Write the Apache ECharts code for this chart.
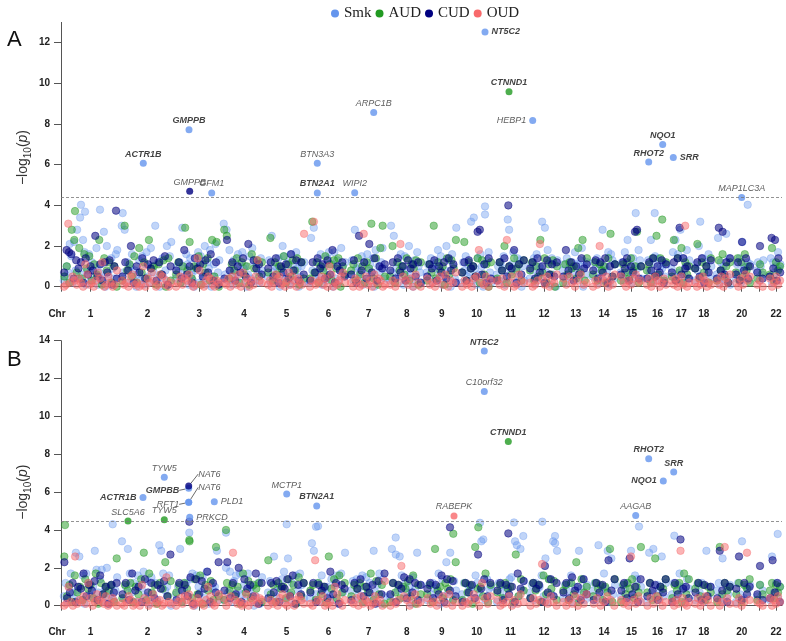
<!DOCTYPE html>
<html>
<head>
<meta charset="utf-8">
<script src="https://cdn.jsdelivr.net/npm/echarts@6.0.0/dist/echarts.min.js"></script>
<style>
html, body { margin: 0; padding: 0; background: #fff; }
#chart { width: 786px; height: 641px; }
</style>
</head>
<body>
<div id="chart"></div>
<script>
// chromosome tick positions and the span of the points of each chromosome (axis units)
var chrTick = ['1','2','3','4','5','6','7','8','9','10','11','12','13','14','15','16','17','18','','20','','22'];
var chrCenter = [29.5, 86.5, 138.2, 183, 225.5, 267.5, 307.5, 345.7, 380.7, 415.8, 449.5, 483, 514.7, 543, 570.5, 596.5, 620.3, 642.7, 663.5, 680.7, 698, 715];
var chrStart = [2, 60, 114, 162, 206, 248, 289, 328, 365, 400, 435, 468, 501, 531, 559, 585, 610, 633, 655, 674, 695, 708];
var chrEnd = [57, 111, 159, 202, 244, 285, 325, 361, 396, 431, 464, 497, 527, 555, 581, 606, 629, 651, 670, 690, 703, 720];

// background -log10(p) per chromosome, one char per gene: base36 digit / 10
var smkA = ['35a7lf2m8s4y6nh18g3c59j17b4r0k62e94gi', 'u7s2c9ag4806d3f1bh52ja7u3c06e48k1fm', '4a7c2t59gb1e6308ah2f74k1c9i05bl27d',
  'v6s3i81d57gb2h9a06f4jc3b72e8', '5d2p73a9e06kf48c1g3b6h905a2c', '2o8t47c5g19a3eh6b0h4d28ja5c', '6d3s9a47f1c2g8b5e0i3a7cj94',
  '3u7p29c5ga1f84k6b0d3ha72', '7b4e2a9ci6f158k3d0ga4t', '2c8f5b7w3y91e6ga0b4dh72', '6a3c9f14xs7bh28e5d0a3', '4b8e2g5a9w3t7ic1e6b0d',
  '8b2e5a7c3h9b4dj0a6c', '5c9e2b7s3a8h1gd4b', '7c3h5n8b2e6a9id4', '4d8n2bf6e3a9c5b', '9h5n3g7s2e6ai4d', '3b8kw5e2c7g4a',
  '6o2c8a3q5e1', '4b7e2m9a5c3b', '8c3a6d', '5e2c7a3h9b'];
var audA = ['5a2sn7j4g9f3b6n1e8c2a0', '3u8b5f2j7c4n9a1b6d0e3', '6c2at8m4a9f1b7e3n5m0', 'sp4b8e2c6a1g9d5c',
  '7o3c6a9f2b5d8e1c4', '4w7c2a8f5b3d9e0a6', '8b3e6a2c9v4e1ju5', '5k2c8a6e3b9d1c', '3b7u4c8a1e6d9n', '7m3c9a5e2d6b0c',
  '4c8k2a6e9b3d', '8c3a5n7e2b6d0a', '2b6c9a4j7n3e', '6c3b8a2eq5b', '3b7c4e8ar2a', '8b2e5p6ex3c', '5n3e8j2c6a',
  '9l4c7a2e', '3d8g5a2c', '7e3c5g8a2', '4b7', '6j3c8a'];
var cudA = ['7ihg4d9c2e6a8p5b3c7d1a4', '5c8k2a7e4b9d3c6f1a', '8c4i6a2e9b5d7g3c1', '4n8c3a7e5l2d9b6', '9c5e2a7b4g8d3c6',
  '3c7e9b4d6i2a8c5', '6d2p8c4l7e3a9b', '8c4e7a3d9b5c2', '5b9d3a7c4e8b2', '7c3d9a5rs6b2e4', '3c8e5a9i2b6d', '9c4e7a2d6b5c',
  '5i8c3a6e9b', '8d4c7e2a5b', '6c9e3a7rs4a', '4c8e5a7d2b', '7c3et6e9a4', '9c5e2a7d', '4t8r6c2e', '6c3m8e4a', '7k4', '5o9n3e7'];
var oudA = ['01v2531420b6120374c0152018', '3120561201a0427301651302', '0251436201e8103541032', '2140531607240315d32',
  '1302645120371530421q', '03w1235140a60213572', '204301q5130624301', '1302l53140620', '412035160327', '0312045i21503',
  '3140n2501632', '2013l4150326', '415203612', '031k4250316', '520314623', '1402530241', '3140251u02', '204153021',
  '3150426', '2041635', '130', '402513'];

var smkB = ['5c2ah74s8q3g1hc65atj7ej29k46b38f', 'y4auh7c2gb9i5d1f6c3wth8ag0', '6au28c5eh0ga7f4i1b9at3', '3k7i2dg8h6b4h9a05c1f',
  '7d2q5a9ei3p6c1g8hb4', '4xt6c2g98a5e3bg1h7s', '8d3e6ag2f9c4t7bh1e5', '5u2r8qg4c7a1f9s3b', '3b6c9ah1e5n7s2d8', '6c2b8a4gc7yz3e9a',
  '2c7b4a9ef1yw5u8d', '7b3c9ag5p2e6yxt', '4b8cg2a6t9e3b', '8c3w5ah9t2p6b', '5b9c2t6ge3a', '2s7u4b8q5c', '6c3bh8a2e9', '3b7c2t5a',
  '8c4p2a6b', '2c6y4a9b', '5b8', '3q7c4a'];
var audB = ['q5b2g7a3e9b4h1c6a8b2p', '4b8c2a6es3h7b1c9n5d', '7b2c9y4e6g1b8d3v5', '3c8b5a1h7d4b9c2', 'o6b2c9a4e7b1f5c',
  '8b3c6a2q9e4g7c', '5b9c2a7h3d6b1', '2c7b4a9d5g1b6', '6b2u8a4c9e3n', '3c7b1v9a5h2b', '7b4c9a2r5e8', '4c8b2g6e9d3',
  '8b3c6n2e7a', '5c9b3a7u2e', '2b6c9e4a7v', '7c3p5a9e', '4b8c2h6e', '9c5b3a7', '2v6c8a', '6c2b9e', '3b6', '8c4b7a'];
var cudB = ['n47c2a9h5b8d3g6a1b7c', '6c3h8a2e7c4b9d5r', '3c8b5f1e6d9i2c7n', '8n4c6k2e9b5h1c', '4c7d2a9e5g1b6c',
  '7c2b8a4i6c1b9', '3c9e5a7b1d6h', '6c2b9f4e7c3b', '9c4b6g2e8d5', '2c7b4r9e5c', '8c3b6a2h9d', '4c9b2l7e5c', '7c4f8a3e6',
  '3c7b2o8e', '8c4p6a2e', '5c8b3a7e', '2c6z9a4', '7c3b5a', '4t8c2a', '9q3c6a', '6l3', '4o7c2'];
var oudB = ['01a20q13251c4026321501420', '102530120b4203612301f21', '024153620142103a51026', '4025s3120160235143',
  '0312046105203531', '10o3250120a6203', '21405132015230d', '0213l5303612', '4120351602', '0213630c415', '3012503162',
  '0413m21520', '203150416', '1402530', '3120q3152', '0415302', '2031t4102', '1402530', '302v41', '1402s3', '210', '403152'];

// background points above 3.5: [position, -log10(p)]
var smkTallA = [[20, 4.03], [24, 3.69], [39, 3.79], [61.7, 3.62], [424, 3.95], [424, 3.55], [574.7, 3.62], [593.7, 3.62], [686.7, 4.03]];
var audTallA = [[14, 3.72]];
var cudTallA = [[55, 3.74], [447.3, 4.0]];
var smkTallB = [[51.7, 4.3], [128.3, 3.86], [165, 3.86], [225.7, 4.3], [255, 4.17], [257, 4.2], [334.7, 3.6], [419, 4.38],
  [453, 4.4], [462.3, 3.68], [481.3, 4.44], [494, 3.68], [578, 4.18], [613.3, 3.7], [716.7, 3.79]];
var audTallB = [[4, 4.26], [128.3, 3.47], [165, 4.0], [392.3, 3.8], [417.3, 4.14]];
var cudTallB = [[128.3, 4.44], [389, 4.14], [447.3, 3.82]];

// labelled genes
var geneA = ['NT5C2', 'CTNND1', 'HEBP1', 'ARPC1B', 'GMPPB', 'ACTR1B', 'BTN3A3', 'GMPPB', 'GFM1', 'BTN2A1', 'WIPI2', 'NQO1', 'RHOT2', 'SRR', 'MAP1LC3A'];
var posA = [424, 448, 471.7, 312.7, 128, 82.3, 256.3, 128.7, 150.7, 256.3, 293.7, 601.7, 587.7, 612.3, 680.7];
var valA = [12.53, 9.59, 8.17, 8.57, 7.72, 6.07, 6.07, 4.69, 4.61, 4.61, 4.62, 7.0, 6.13, 6.35, 4.39];
var traitA = ['Smk', 'AUD', 'Smk', 'Smk', 'Smk', 'Smk', 'Smk', 'CUD', 'Smk', 'Smk', 'Smk', 'Smk', 'Smk', 'Smk', 'Smk'];
var boldA = [1, 1, 0, 0, 1, 1, 0, 0, 0, 1, 0, 1, 1, 1, 0];

var geneB = ['NT5C2', 'C10orf32', 'CTNND1', 'RHOT2', 'SRR', 'NQO1', 'AAGAB', 'RABEPK', 'TYW5', 'GMPBB', 'RFT1', 'NAT6', 'NAT6',
  'ACTR1B', 'PLD1', 'PRKCD', 'SLC5A6', 'TYW5', 'MCTP1', 'BTN2A1'];
var posB = [423.3, 423.3, 447.3, 587.7, 612.7, 602.3, 574.7, 393, 103.3, 127.7, 127.7, 127.7, 127.7, 82, 153.3, 128.7, 67, 103.3, 225.7, 255.7];
var valB = [13.45, 11.32, 8.68, 7.77, 7.06, 6.59, 4.77, 4.74, 6.78, 6.2, 5.46, 5.46, 6.32, 5.72, 5.49, 4.67, 4.47, 4.54, 5.9, 5.27];
var traitB = ['Smk', 'Smk', 'AUD', 'Smk', 'Smk', 'Smk', 'Smk', 'OUD', 'Smk', 'Smk', 'Smk', 'Smk', 'CUD', 'Smk', 'Smk', 'Smk', 'AUD', 'AUD', 'Smk', 'Smk'];
var boldB = [1, 0, 1, 1, 1, 1, 0, 0, 0, 1, 0, 0, 0, 1, 0, 0, 0, 0, 0, 1];

var cutA = 4.38;
var cutB = 4.47;

// label placement: [position, dx, dy, leader move]
var placeA = [['right', 0, 0], ['top', 0, 0], ['left', 0, 6], ['top', 0, 0], ['top', 0, 0], ['top', -11, 0], ['top', 0, 0],
  ['top', -13, 0], ['top', 14, 0], ['top', -8, 0], ['top', 0, 0], ['top', 0, 0], ['top', -13, 0], ['right', 0, 0], ['top', -3, 0]];
var placeB = [['top', 0, 0], ['top', 0, 0], ['top', 0, 0], ['top', -5, 0], ['top', 10, 0], ['left', 0, 2], ['top', -15, 0],
  ['top', 6, 0], ['top', 0, 0], ['left', 0, 0, [-3, 2]], ['left', 0, 0, [-3, 2]], ['right', 0, 0, [3, -15]], ['right', 0, 0, [3, -12]],
  ['left', 0, 0], ['right', 0, 0], ['right', 0, 0], ['top', -13, 0], ['top', -14, 0], ['top', 0, 0], ['top', 0, 0]];

var traitColor = { Smk: '#6495ED', AUD: '#229A22', CUD: '#000080', OUD: '#F8696B' };
var bgAlpha = { Smk: 0.4, AUD: 0.5, CUD: 0.55, OUD: 0.5 };
var sans = 'Liberation Sans, Arial, sans-serif';

function spread(strs, tall) {
  var pts = [];
  for (var c = 0; c < strs.length; c++) {
    var s = strs[c], a = chrStart[c], b = chrEnd[c], n = s.length;
    for (var k = 0; k < n; k++) {
      pts.push([a + (k + 0.5) * (b - a) / n, parseInt(s.charAt(k), 36) / 10]);
    }
  }
  return pts.concat(tall || []);
}

function bgSeries(trait, strs, tall, idx) {
  var c = traitColor[trait];
  return {
    name: trait, type: 'scatter', xAxisIndex: idx, yAxisIndex: idx,
    data: spread(strs, tall), symbolSize: 7.5, silent: true,
    itemStyle: { color: c, opacity: bgAlpha[trait], borderColor: c, borderWidth: 0.8 }
  };
}

function hiSeries(name, genes, pos, val, trait, bold, place, cut, idx) {
  var data = [];
  for (var i = 0; i < genes.length; i++) {
    var p = place[i];
    data.push({
      name: genes[i],
      value: [pos[i], val[i]],
      itemStyle: { color: traitColor[trait[i]] },
      label: {
        position: p[0], offset: [p[1], p[2]], distance: p[0] == 'top' ? 1 : 3,
        fontWeight: bold[i] ? 'bold' : 'normal', color: bold[i] ? '#111' : '#333'
      },
      labelLine: { show: !!p[3] }
    });
  }
  return {
    name: name, type: 'scatter', xAxisIndex: idx, yAxisIndex: idx,
    data: data, symbolSize: 7, silent: true, z: 3,
    label: { show: true, formatter: '{b}', fontSize: 9, fontStyle: 'italic', fontFamily: sans },
    labelLine: { show: false, lineStyle: { color: '#444', width: 0.8 } },
    labelLayout: function (prm) {
      var m = place[prm.dataIndex][3];
      return m ? { dx: m[0], dy: m[1] } : {};
    },
    markLine: {
      silent: true, symbol: 'none', label: { show: false },
      lineStyle: { type: [3, 2], color: '#777', width: 0.8 },
      data: [{ yAxis: cut }]
    }
  };
}

var xTicks = [0].concat(chrCenter);
function xAxisDef(idx, off) {
  return {
    gridIndex: idx, type: 'value', min: 0, max: 721, offset: off,
    axisLine: { lineStyle: { color: '#555', width: 1 } },
    axisTick: { show: true, customValues: xTicks, length: 5, lineStyle: { color: '#555' } },
    axisLabel: {
      customValues: xTicks, margin: 12, fontWeight: 'bold', fontSize: 10, color: '#222', fontFamily: sans,
      formatter: function (v) {
        if (v === 0) return '{c|Chr}';
        var i = chrCenter.indexOf(v);
        return i < 0 ? '' : chrTick[i];
      },
      rich: { c: { fontWeight: 'bold', fontSize: 10, color: '#222', padding: [0, 8, 0, 0] } }
    },
    splitLine: { show: false }
  };
}

function yAxisDef(idx, max, shift) {
  var t = [];
  for (var v = 0; v <= max; v += 2) t.push(v);
  return {
    gridIndex: idx, type: 'value', min: 0, max: max,
    axisLine: { show: true, lineStyle: { color: '#555', width: 1 } },
    axisTick: { show: true, customValues: t, length: 7, lineStyle: { color: '#555' } },
    axisLabel: { customValues: t, margin: 11, fontWeight: 'bold', fontSize: 10, color: '#222', fontFamily: sans },
    splitLine: { show: false },
    name: '\u2212log{s|10}({i|p})', nameLocation: 'middle', nameGap: 28, nameRotate: 90, nameMoveOverlap: false,
    nameTextStyle: {
      fontSize: 14, color: '#333', fontFamily: sans, padding: [0, shift, 0, 0],
      rich: {
        s: { fontSize: 10, color: '#333', fontFamily: sans, verticalAlign: 'bottom', lineHeight: 20 },
        i: { fontSize: 14, color: '#333', fontFamily: sans, fontStyle: 'italic' }
      }
    }
  };
}

var chart = echarts.init(document.getElementById('chart'));
chart.setOption({
  animation: false,
  backgroundColor: '#fff',
  title: [
    { text: 'A', left: 2, top: 24, textStyle: { fontSize: 22, fontWeight: 'normal', color: '#111', fontFamily: sans } },
    { text: 'B', left: 2, top: 344, textStyle: { fontSize: 22, fontWeight: 'normal', color: '#111', fontFamily: sans } }
  ],
  legend: {
    top: 1, left: 326, icon: 'circle', itemWidth: 8, itemHeight: 8, itemGap: 4,
    textStyle: { fontFamily: 'Liberation Serif, Times New Roman, serif', fontSize: 15, color: '#222', width: 34 },
    data: ['Smk', 'AUD', 'CUD', 'OUD'].map(function (t) {
      return { name: t, itemStyle: { color: traitColor[t], opacity: 1, borderWidth: 0 } };
    })
  },
  grid: [
    { left: 61, width: 721, top: 22.4, height: 264.3 },
    { left: 61, width: 721, top: 340.7, height: 265 }
  ],
  xAxis: [xAxisDef(0, 11), xAxisDef(1, 10)],
  yAxis: [yAxisDef(0, 13, 6), yAxisDef(1, 14, 38)],
  series: [
    bgSeries('Smk', smkA, smkTallA, 0),
    bgSeries('AUD', audA, audTallA, 0),
    bgSeries('CUD', cudA, cudTallA, 0),
    bgSeries('OUD', oudA, [], 0),
    hiSeries('hitsA', geneA, posA, valA, traitA, boldA, placeA, cutA, 0),
    bgSeries('Smk', smkB, smkTallB, 1),
    bgSeries('AUD', audB, audTallB, 1),
    bgSeries('CUD', cudB, cudTallB, 1),
    bgSeries('OUD', oudB, [], 1),
    hiSeries('hitsB', geneB, posB, valB, traitB, boldB, placeB, cutB, 1)
  ]
});
</script>
</body>
</html>
